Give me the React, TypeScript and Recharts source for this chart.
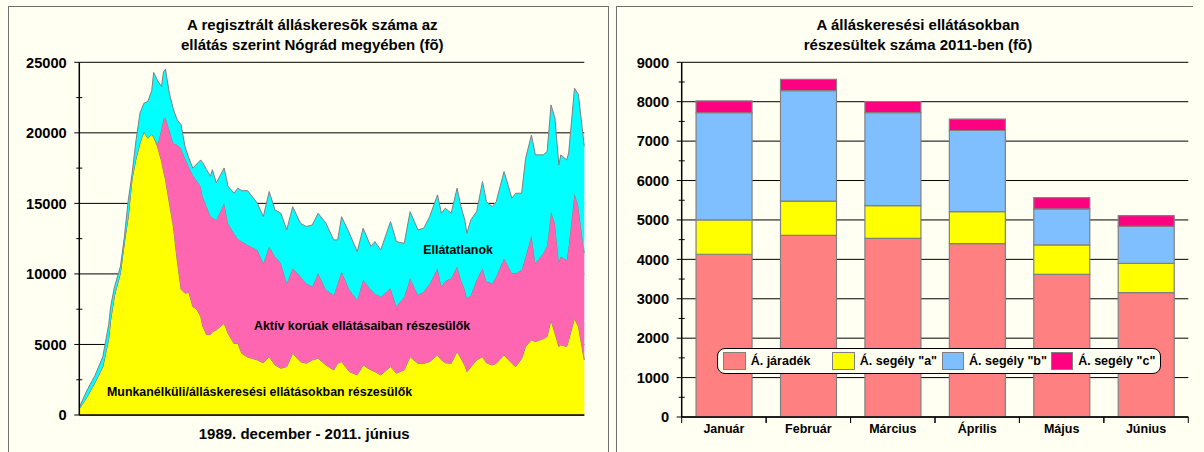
import React from 'react';
import {
  AreaChart,
  Area,
  XAxis,
  YAxis,
  CartesianGrid,
  BarChart,
  Bar,
  Legend,
} from 'recharts';

const FONT = '"Liberation Sans", Arial, Helvetica, sans-serif';
const BG = '#FFFFF2';

// ---------- Left chart: monthly index since 1989 December (0) to 2011 June (258) ----------
const honapIndex = [
  0, 4, 8, 12, 15, 16, 18, 21, 23, 25, 27, 29, 31, 33, 35, 37, 38, 40, 42, 43, 44, 46, 48, 50, 52, 54, 56, 58,
  60, 62, 63, 65, 67, 68, 70, 74, 76, 79, 81, 83, 86, 91, 94, 97, 100, 103, 106, 109, 113, 116, 119, 122, 126,
  130, 132, 134, 138, 142, 145, 149, 151, 154, 159, 162, 166, 169, 173, 176, 179, 183, 185, 187, 190, 193, 195,
  197, 198, 200, 203, 206, 208, 211, 213, 217, 221, 223, 226, 228, 231, 233, 237, 239, 241, 243, 245, 246, 249,
  250, 253, 255, 258,
];
// Munkanélküli/álláskeresési ellátásokban részesülők (yellow)
const munkanelkuli = [
  450, 1300, 2300, 3430, 5400, 6740, 8500, 10050, 12200, 14060, 16790, 18200, 19270, 20090, 19620, 19900, 19700,
  19000, 18000, 17300, 16700, 15030, 13400, 10990, 8910, 8630, 8680, 7680, 7500, 7000, 6310, 5700, 5700, 5900,
  6030, 6500, 5790, 5080, 5080, 4370, 4100, 3900, 3700, 4130, 3540, 3310, 3430, 4370, 3780, 3660, 3900, 4020,
  3540, 3190, 3660, 3780, 3070, 2840, 3540, 3190, 3070, 2840, 3430, 2960, 3190, 4130, 3660, 3660, 3780, 4250,
  3900, 3700, 3660, 4490, 4020, 3500, 3070, 3400, 3900, 4130, 3700, 3540, 3660, 4250, 3660, 3430, 4000, 4850,
  5320, 5200, 5400, 5550, 6730, 5800, 4850, 4970, 4850, 5300, 6850, 6260, 3900,
];
// Upper edge of "Aktív korúak ellátásaiban részesülők" (yellow + pink)
const aktivKoruakFelso = [
  450, 1300, 2300, 3430, 5400, 6740, 8500, 10050, 12200, 14060, 16790, 18200, 19270, 20090, 19620, 19900, 19700,
  19200, 20300, 21000, 21100, 20210, 19270, 19150, 18910, 18200, 17600, 17000, 16600, 16190, 15500, 14800, 14100,
  14000, 13830, 15010, 13590, 12880, 12500, 12290, 12050, 11700, 10760, 11940, 11230, 10760, 9340, 10400, 9810,
  9340, 9100, 10050, 8870, 8510, 9340, 10170, 8870, 8160, 9580, 8870, 8600, 8390, 8980, 7700, 8390, 9690, 8510,
  8750, 9300, 10400, 9100, 9500, 9690, 10520, 9580, 8870, 8270, 8510, 9580, 10400, 9460, 9340, 9810, 11110,
  10050, 10050, 10300, 11230, 12760, 10760, 11470, 12000, 14420, 13590, 10880, 11230, 10990, 12000, 15720, 14770,
  11470,
];
// Upper edge of "Ellátatlanok" (all registered job seekers)
const osszesFelso = [
  550, 1770, 2800, 4130, 6400, 7680, 9100, 10520, 12600, 15200, 17140, 19500, 21400, 22100, 22220, 23000, 24280,
  23700, 23280, 24300, 24520, 22820, 21700, 20920, 20570, 19030, 18200, 17500, 17800, 18080, 17900, 17400, 16920,
  17390, 16450, 17510, 16210, 15720, 16080, 15900, 15900, 15010, 14060, 15840, 14540, 14300, 13120, 14770, 13590,
  13360, 13470, 14300, 13590, 12410, 12410, 14060, 12880, 11580, 13240, 11940, 12290, 11700, 13710, 12290, 12170,
  14420, 13120, 13240, 14060, 15600, 14300, 14660, 14300, 16080, 14770, 13800, 12880, 13830, 14420, 16550, 15130,
  14770, 15130, 17260, 15370, 15720, 15720, 18190, 19850, 18440, 18440, 18670, 21980, 21040, 17730, 18440, 18080,
  18560, 23170, 22700, 19030,
];
const leftYTicks = [0, 2500, 5000, 7500, 10000, 12500, 15000, 17500, 20000, 22500, 25000];
const leftGrid = [0, 5000, 10000, 15000, 20000, 25000];

const leftData = honapIndex.map((m, i) => ({
  m,
  munkanelkuli: munkanelkuli[i],
  aktiv: aktivKoruakFelso[i] - munkanelkuli[i],
  ellatatlan: osszesFelso[i] - aktivKoruakFelso[i],
}));

// ---------- Right chart: 2011 monthly ----------
const honapok = ['Január', 'Február', 'Március', 'Április', 'Május', 'Június'];
const jaradek = [4130, 4610, 4530, 4400, 3620, 3155];
const segelyA = [870, 870, 835, 810, 745, 745];
const segelyB = [2720, 2800, 2360, 2060, 915, 935];
const segelyC = [300, 290, 280, 290, 285, 275];
const rightYTicks = [0, 500, 1000, 1500, 2000, 2500, 3000, 3500, 4000, 4500, 5000, 5500, 6000, 6500, 7000, 7500, 8000, 8500, 9000];
const rightGrid = [0, 1000, 2000, 3000, 4000, 5000, 6000, 7000, 8000, 9000];

const rightSeries = [
  { key: 'jaradek', name: 'Á. járadék', color: '#FF8080' },
  { key: 'segelyA', name: 'Á. segély "a"', color: '#FFFF00' },
  { key: 'segelyB', name: 'Á. segély "b"', color: '#80BFFF' },
  { key: 'segelyC', name: 'Á. segély "c"', color: '#FF0080' },
];

const rightData = honapok.map((h, i) => ({
  honap: h,
  jaradek: jaradek[i],
  segelyA: segelyA[i],
  segelyB: segelyB[i],
  segelyC: segelyC[i],
}));

// ---------- layout constants ----------
const L_W = 608;
const L_AXIS_X = 79.3;
const R_W = 596;
const R_AXIS_X = 73.7;
const R_AXIS_Y = 417;

const makeYTick = (axisX: number, major: number) => (props: any) => {
  const { y, payload } = props;
  const v = payload.value as number;
  const isMajor = v % major === 0;
  return (
    <g>
      <line
        x1={isMajor ? axisX - 5 : axisX - 3}
        x2={isMajor ? axisX : axisX + 3}
        y1={y}
        y2={y}
        stroke="#000"
        strokeWidth={1}
      />
      {isMajor ? (
        <text
          x={axisX - 12.6}
          y={y + 5.2}
          textAnchor="end"
          fontFamily={FONT}
          fontWeight="bold"
          fontSize={14.6}
          fill="#000"
        >
          {v}
        </text>
      ) : null}
    </g>
  );
};

const BottomTick = (props: any) => {
  const { x, payload } = props;
  const half = payload && typeof payload.offset === 'number' && payload.offset > 0 ? payload.offset : 42.2;
  return (
    <g>
      <line x1={x - half} x2={x - half} y1={R_AXIS_Y} y2={R_AXIS_Y + 6} stroke="#000" strokeWidth={1} />
      <line x1={x + half} x2={x + half} y1={R_AXIS_Y} y2={R_AXIS_Y + 6} stroke="#000" strokeWidth={1} />
      <text
        x={x}
        y={R_AXIS_Y + 16.3}
        textAnchor="middle"
        fontFamily={FONT}
        fontWeight="bold"
        fontSize={12.5}
        fill="#000"
      >
        {payload.value}
      </text>
    </g>
  );
};

const renderLegend = (props: any) => {
  const payload = (props && props.payload) || [];
  return (
    <div
      style={{
        boxSizing: 'border-box',
        width: 444.3,
        height: 26.6,
        border: '1px solid #000',
        borderRadius: 8,
        background: BG,
        display: 'flex',
        alignItems: 'center',
        paddingLeft: 5.6,
        fontFamily: FONT,
        fontWeight: 'bold',
        fontSize: 12.5,
        color: '#000',
        whiteSpace: 'nowrap',
      }}
    >
      {payload.map((e: any) => {
        const s = rightSeries.find((r) => r.key === e.dataKey) || rightSeries[0];
        return (
          <div key={s.key} style={{ width: 109.3, display: 'flex', alignItems: 'center' }}>
            <span
              style={{
                display: 'inline-block',
                boxSizing: 'border-box',
                width: 22.4,
                height: 18,
                background: s.color,
                border: '1.5px solid #808080',
                marginRight: 5,
              }}
            />
            <span>{s.name}</span>
          </div>
        );
      })}
    </div>
  );
};

export default function App() {
  return (
    <div
      style={{
        position: 'absolute',
        left: 0,
        top: 0,
        width: 1204,
        height: 452,
        background: BG,
        overflow: 'hidden',
        fontFamily: FONT,
      }}
    >
      {/* panel frames */}
      <div
        style={{
          position: 'absolute',
          left: 7.5,
          top: 6,
          width: 601,
          height: 470,
          boxSizing: 'border-box',
          border: '1.5px solid #707070',
        }}
      />
      <div
        style={{
          position: 'absolute',
          left: 616,
          top: 6,
          width: 577,
          height: 470,
          boxSizing: 'border-box',
          borderTop: '1.5px solid #707070',
          borderLeft: '1.5px solid #707070',
        }}
      />

      {/* left chart */}
      <div style={{ position: 'absolute', left: 0, top: 0 }}>
        <AreaChart
          width={L_W}
          height={452}
          data={leftData}
          margin={{ top: 62.3, right: 23.7, bottom: 0, left: 19.3 }}
        >
          <CartesianGrid vertical={false} horizontalValues={leftGrid} stroke="#000" strokeWidth={1} />
          <Area
            type="linear"
            dataKey="munkanelkuli"
            stackId="a"
            fill="#FFFF00"
            fillOpacity={1}
            stroke="#808080"
            strokeWidth={1}
            isAnimationActive={false}
          />
          <Area
            type="linear"
            dataKey="aktiv"
            stackId="a"
            fill="#FF66B2"
            fillOpacity={1}
            stroke="#808080"
            strokeWidth={1}
            isAnimationActive={false}
          />
          <Area
            type="linear"
            dataKey="ellatatlan"
            stackId="a"
            fill="#00FFFF"
            fillOpacity={1}
            stroke="#808080"
            strokeWidth={1}
            isAnimationActive={false}
          />
          <XAxis
            type="number"
            dataKey="m"
            domain={[0, 258]}
            tick={false}
            tickLine={false}
            height={37}
            axisLine={{ stroke: '#000', strokeWidth: 1.5 }}
          />
          <YAxis
            type="number"
            domain={[0, 25000]}
            ticks={leftYTicks}
            interval={0}
            width={60}
            tickLine={false}
            tick={makeYTick(L_AXIS_X, 5000)}
            axisLine={{ stroke: '#000', strokeWidth: 1.5 }}
          />
          <YAxis
            yAxisId="keret"
            orientation="right"
            type="number"
            domain={[0, 25000]}
            width={0}
            tick={false}
            tickLine={false}
            axisLine={{ stroke: '#333', strokeWidth: 1.5 }}
          />
        </AreaChart>
      </div>

      {/* right chart */}
      <div style={{ position: 'absolute', left: 608, top: 0 }}>
        <BarChart
          width={R_W}
          height={452}
          data={rightData}
          margin={{ top: 62.3, right: 15.7, bottom: 0, left: 13.7 }}
          barCategoryGap="17%"
        >
          <CartesianGrid vertical={false} horizontalValues={rightGrid} stroke="#000" strokeWidth={1} />
          {rightSeries.map((s) => (
            <Bar
              key={s.key}
              dataKey={s.key}
              name={s.name}
              stackId="s"
              fill={s.color}
              stroke="#808080"
              strokeWidth={1.2}
              isAnimationActive={false}
            />
          ))}
          <XAxis
            dataKey="honap"
            height={35}
            interval={0}
            tickLine={false}
            tick={BottomTick}
            axisLine={{ stroke: '#000', strokeWidth: 1.5 }}
          />
          <YAxis
            type="number"
            domain={[0, 9000]}
            ticks={rightYTicks}
            interval={0}
            width={60}
            tickLine={false}
            tick={makeYTick(R_AXIS_X, 1000)}
            axisLine={{ stroke: '#000', strokeWidth: 1.5 }}
          />
          <YAxis
            yAxisId="keret"
            orientation="right"
            type="number"
            domain={[0, 9000]}
            width={0}
            tick={false}
            tickLine={false}
            axisLine={{ stroke: '#000', strokeWidth: 1.5 }}
          />
          <Legend
            layout="horizontal"
            verticalAlign="middle"
            align="center"
            wrapperStyle={{ left: 716.7 - 608, top: 347.7, width: 444.3, height: 26.6 }}
            content={renderLegend}
          />
        </BarChart>
      </div>

      {/* titles and labels */}
      <svg
        width={1204}
        height={452}
        style={{ position: 'absolute', left: 0, top: 0, pointerEvents: 'none' }}
      >
        <g fontFamily={FONT} fontWeight="bold" fill="#000">
          <text x={312.3} y={29.5} fontSize={15} textAnchor="middle">
            A regisztrált álláskeresõk száma az
          </text>
          <text x={312.3} y={50} fontSize={15} textAnchor="middle">
            ellátás szerint Nógrád megyében (fõ)
          </text>
          <text x={304.2} y={439.3} fontSize={15} textAnchor="middle">
            1989. december - 2011. június
          </text>
          <text x={423.3} y={254.3} fontSize={12.4}>
            Ellátatlanok
          </text>
          <text x={254} y={330.3} fontSize={12.4}>
            Aktív korúak ellátásaiban részesülők
          </text>
          <text x={107} y={396} fontSize={12.4}>
            Munkanélküli/álláskeresési ellátásokban részesülők
          </text>
          <text x={918} y={29.5} fontSize={15} textAnchor="middle">
            A álláskeresési ellátásokban
          </text>
          <text x={918} y={50} fontSize={15} textAnchor="middle">
            részesültek száma 2011-ben (fõ)
          </text>
        </g>
      </svg>
    </div>
  );
}
